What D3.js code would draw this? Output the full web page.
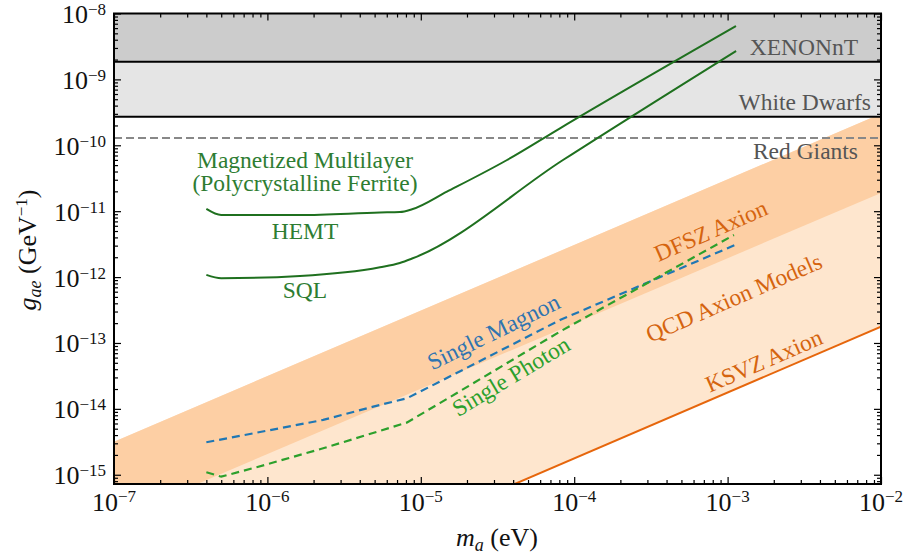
<!DOCTYPE html>
<html>
<head>
<meta charset="utf-8">
<script src="https://cdn.jsdelivr.net/npm/d3@7"></script>
<style>
  body { margin: 0; background: #fff; }
  text { font-family: "Liberation Serif", serif; }
</style>
</head>
<body>
<svg id="chart" width="909" height="557"></svg>
<script>
// axis limits and ticks
var xDomain = [1e-7, 1e-2];
var yDomain = [7.24e-16, 1e-8];
var xMajor = [1e-7, 1e-6, 1e-5, 1e-4, 1e-3, 1e-2];
var xMajorExp = ["−7", "−6", "−5", "−4", "−3", "−2"];
var yMajor = [1e-15, 1e-14, 1e-13, 1e-12, 1e-11, 1e-10, 1e-9, 1e-8];
var yMajorExp = ["−15", "−14", "−13", "−12", "−11", "−10", "−9", "−8"];

// QCD axion bands (straight in log-log), given at the two x limits
var bandMass = [1e-7, 1e-2];
var dfszUpper = [3.18e-15, 3.0e-10];
var dfszLower = [2.1e-16, 1.89e-11];
var ksvzLine = [1.77e-18, 1.77e-13];

// existing limits
var xenonLimit = 1.85e-9;
var whiteDwarfLimit = 2.72e-10;
var redGiantLimit = 1.29e-10;

// projected sensitivities
var hemtMass = [4e-7, 5e-7, 1.63e-6, 5.42e-6, 7.3e-6, 8.77e-6, 1.48e-5, 3.65e-5, 8.08e-5, 1.135e-3];
var hemtG = [1.08e-11, 8.75e-12, 8.75e-12, 9.55e-12, 9.7e-12, 1.07e-11, 1.98e-11, 5.98e-11, 1.81e-10, 6.45e-9];
var sqlMass = [4e-7, 5e-7, 1.63e-6, 5.42e-6, 7.3e-6, 8.77e-6, 8.45e-5, 1.135e-3];
var sqlG = [1.08e-12, 9.6e-13, 1.04e-12, 1.41e-12, 1.64e-12, 1.91e-12, 5.98e-11, 2.7e-9];
var magnonMass = [4e-7, 8.5e-7, 2.31e-6, 4.9e-6, 8.13e-6, 1.33e-5, 8.08e-5, 1.12e-3];
var magnonG = [3.11e-15, 4.35e-15, 6.8e-15, 1.08e-14, 1.45e-14, 2.59e-14, 2.23e-13, 3.07e-12];
var photonMass = [4e-7, 5e-7, 8.5e-7, 2.31e-6, 8.09e-6, 1.33e-5, 8.08e-5, 1.1e-3];
var photonG = [1.09e-15, 9.35e-16, 1.3e-15, 2.52e-15, 6.18e-15, 1.22e-14, 1.49e-13, 4.35e-12];

var margin = {top: 13.5, right: 28, bottom: 73, left: 114};
var width = 909, height = 557;
var svg = d3.select('#chart');

var x = d3.scaleLog().domain(xDomain).range([margin.left, width - margin.right]);
var y = d3.scaleLog().domain(yDomain).range([height - margin.bottom, margin.top]);
var x0 = x.range()[0], x1 = x.range()[1], y0 = y.range()[1], y1 = y.range()[0];

svg.append('clipPath').attr('id', 'clip')
  .append('rect').attr('x', x0).attr('y', y0).attr('width', x1 - x0).attr('height', y1 - y0);
var plot = svg.append('g').attr('clip-path', 'url(#clip)');

function zip(a, b) { return a.map((d, i) => [d, b[i]]); }

// bands
var area = d3.area().x(d => x(d[0])).y0(d => y(d[1])).y1(d => y(d[2]));
plot.append('path')
  .datum(bandMass.map((m, i) => [m, ksvzLine[i], dfszUpper[i]]))
  .attr('d', area).attr('fill', '#fee6ce');
plot.append('path')
  .datum(bandMass.map((m, i) => [m, dfszLower[i], dfszUpper[i]]))
  .attr('d', area).attr('fill', '#fdcfa4');

var line = d3.line().x(d => x(d[0])).y(d => y(d[1]));
plot.append('path').datum(zip(bandMass, ksvzLine))
  .attr('d', line).attr('fill', 'none').attr('stroke', '#e6660c').attr('stroke-width', 2);

// limits
plot.append('rect').attr('x', x0).attr('width', x1 - x0)
  .attr('y', y0).attr('height', y(xenonLimit) - y0).attr('fill', '#cccccc');
plot.append('rect').attr('x', x0).attr('width', x1 - x0)
  .attr('y', y(xenonLimit)).attr('height', y(whiteDwarfLimit) - y(xenonLimit)).attr('fill', '#e5e5e5');
[xenonLimit, whiteDwarfLimit].forEach(v => {
  plot.append('line').attr('x1', x0).attr('x2', x1).attr('y1', y(v)).attr('y2', y(v))
    .attr('stroke', '#000').attr('stroke-width', 2);
});
plot.append('line').attr('x1', x0).attr('x2', x1).attr('y1', y(redGiantLimit)).attr('y2', y(redGiantLimit))
  .attr('stroke', '#888').attr('stroke-width', 2).attr('stroke-dasharray', '8,4');

// sensitivity curves
var smooth = d3.line().x(d => x(d[0])).y(d => y(d[1])).curve(d3.curveMonotoneX);
plot.append('path').datum(zip(hemtMass, hemtG)).attr('d', smooth)
  .attr('fill', 'none').attr('stroke', '#1f701f').attr('stroke-width', 2);
plot.append('path').datum(zip(sqlMass, sqlG)).attr('d', smooth)
  .attr('fill', 'none').attr('stroke', '#1f701f').attr('stroke-width', 2);
plot.append('path').datum(zip(magnonMass, magnonG)).attr('d', line)
  .attr('fill', 'none').attr('stroke', '#1f77b4').attr('stroke-width', 2.2).attr('stroke-dasharray', '8,5');
plot.append('path').datum(zip(photonMass, photonG)).attr('d', line)
  .attr('fill', 'none').attr('stroke', '#2ca02c').attr('stroke-width', 2.2).attr('stroke-dasharray', '8,5');

// annotations
function label(txt, px, py, color, anchor, angle) {
  svg.append('text').attr('transform', 'translate(' + [px, py] + ') rotate(' + (angle || 0) + ')')
    .attr('text-anchor', anchor).attr('fill', color).style('font-size', '23.5px').text(txt);
}
label('XENONnT', 858, 55, '#555', 'end');
label('White Dwarfs', 871, 110, '#555', 'end');
label('Red Giants', 858, 159, '#555', 'end');
label('Magnetized Multilayer', 305, 168, '#2e7d32', 'middle');
label('(Polycrystalline Ferrite)', 305, 191, '#2e7d32', 'middle');
label('HEMT', 305, 239, '#2e7d32', 'middle');
label('SQL', 305, 298, '#2e7d32', 'middle');
label('Single Magnon', 497, 339, '#2f74b0', 'middle', -26);
label('Single Photon', 515, 383, '#2ca02c', 'middle', -31);
label('DFSZ Axion', 714, 238, '#d5640f', 'middle', -23.5);
label('QCD Axion Models', 737, 305, '#d5640f', 'middle', -23.5);
label('KSVZ Axion', 767, 368, '#d5640f', 'middle', -23.5);

// axes with inward ticks
var xMinor = x.ticks().filter(d => xMajor.indexOf(d) < 0);
var yMinor = y.ticks().filter(d => yMajor.indexOf(d) < 0 && d >= yDomain[0]);
function drawAxis(gen, tx, ty) {
  var g = svg.append('g').attr('transform', 'translate(' + [tx, ty] + ')').call(gen);
  g.select('.domain').remove();
  g.selectAll('line').attr('stroke', '#000').attr('stroke-width', 1.2);
}
drawAxis(d3.axisBottom(x).tickValues(xMajor).tickSize(-7).tickFormat(''), 0, y1);
drawAxis(d3.axisBottom(x).tickValues(xMinor).tickSize(-4).tickFormat(''), 0, y1);
drawAxis(d3.axisTop(x).tickValues(xMajor).tickSize(-7).tickFormat(''), 0, y0);
drawAxis(d3.axisTop(x).tickValues(xMinor).tickSize(-4).tickFormat(''), 0, y0);
drawAxis(d3.axisLeft(y).tickValues(yMajor).tickSize(-7).tickFormat(''), x0, 0);
drawAxis(d3.axisLeft(y).tickValues(yMinor).tickSize(-4).tickFormat(''), x0, 0);
drawAxis(d3.axisRight(y).tickValues(yMajor).tickSize(-7).tickFormat(''), x1, 0);
drawAxis(d3.axisRight(y).tickValues(yMinor).tickSize(-4).tickFormat(''), x1, 0);

svg.append('rect').attr('x', x0).attr('y', y0).attr('width', x1 - x0).attr('height', y1 - y0)
  .attr('fill', 'none').attr('stroke', '#000').attr('stroke-width', 2);

// tick labels
xMajor.forEach((d, i) => {
  var t = svg.append('text').attr('x', x(d)).attr('y', 511).attr('text-anchor', 'middle')
    .attr('fill', '#111').style('font-size', '26px');
  t.append('tspan').text('10');
  t.append('tspan').attr('dy', -9).style('font-size', '17px').text(xMajorExp[i]);
});
yMajor.forEach((d, i) => {
  var t = svg.append('text').attr('x', 106).attr('y', y(d) + 9.5).attr('text-anchor', 'end')
    .attr('fill', '#111').style('font-size', '26px');
  t.append('tspan').text('10');
  t.append('tspan').attr('dy', -8).style('font-size', '17px').text(yMajorExp[i]);
});

// axis titles
var xt = svg.append('text').attr('x', 497).attr('y', 546).attr('text-anchor', 'middle')
  .attr('fill', '#111').style('font-size', '26px');
xt.append('tspan').style('font-style', 'italic').text('m');
xt.append('tspan').attr('dy', 5).style('font-size', '18px').style('font-style', 'italic').text('a');
xt.append('tspan').attr('dy', -5).text(' (eV)');

var yt = svg.append('text').attr('transform', 'translate(36,250) rotate(-90)').attr('text-anchor', 'middle')
  .attr('fill', '#111').style('font-size', '26px');
yt.append('tspan').style('font-style', 'italic').text('g');
yt.append('tspan').attr('dy', 5).style('font-size', '18px').style('font-style', 'italic').text('ae');
yt.append('tspan').attr('dy', -5).text(' (GeV');
yt.append('tspan').attr('dy', -9).style('font-size', '17px').text('−1');
yt.append('tspan').attr('dy', 9).text(')');
</script>
</body>
</html>
